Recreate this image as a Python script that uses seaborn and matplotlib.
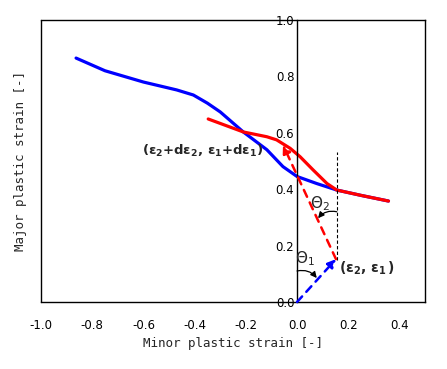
import numpy as np
import pandas as pd
import matplotlib
matplotlib.use("Agg")
import matplotlib.pyplot as plt
import seaborn as sns

# Data
blue_x = [-0.863, -0.75, -0.60, -0.47, -0.405, -0.35, -0.30, -0.21, -0.118, -0.055, 0.0, 0.077, 0.155, 0.25, 0.357]
blue_y = [0.865, 0.82, 0.78, 0.752, 0.734, 0.705, 0.674, 0.603, 0.54, 0.48, 0.445, 0.42, 0.397, 0.378, 0.358]
red_x = [-0.347, -0.21, -0.118, -0.08, -0.027, 0.012, 0.063, 0.117, 0.155, 0.25, 0.357]
red_y = [0.649, 0.603, 0.586, 0.575, 0.545, 0.515, 0.468, 0.42, 0.397, 0.378, 0.358]

p0 = (0.0, 0.0)
p1 = (0.152, 0.152)
p2 = (-0.055, 0.557)

xticks = [-1.0, -0.8, -0.6, -0.4, -0.2, 0.0, 0.2, 0.4]
yticks = [0.0, 0.2, 0.4, 0.6, 0.8, 1.0]

sns.set_style("white")
plt.rcParams["mathtext.fontset"] = "dejavusans"

fig = plt.figure(figsize=(4.47, 3.69), dpi=100)
ax = fig.add_axes([0.0917, 0.1816, 0.8593, 0.7642])

dfb = pd.DataFrame({"x": blue_x, "y": blue_y})
dfr = pd.DataFrame({"x": red_x, "y": red_y})
sns.lineplot(data=dfb, x="x", y="y", sort=False, color="#0000ff", lw=2.3, ax=ax)
sns.lineplot(data=dfr, x="x", y="y", sort=False, color="#ff0000", lw=2.3, ax=ax)

# dashed arrows
ax.annotate("", xy=p1, xytext=p0,
            arrowprops=dict(arrowstyle="-|>", color="#0000ff", lw=1.8, ls=(0, (3, 2.5)),
                            mutation_scale=12, shrinkA=0, shrinkB=0))
ax.annotate("", xy=p2, xytext=p1,
            arrowprops=dict(arrowstyle="-|>", color="#ff0000", lw=1.8, ls=(0, (3, 2.5)),
                            mutation_scale=12, shrinkA=0, shrinkB=0))
# thin vertical dashed reference line
ax.plot([0.155, 0.155], [0.15, 0.532], color="black", lw=0.8, ls=(0, (3, 2)))

# angle arrows
ax.annotate("", xy=(0.082, 0.297), xytext=(0.155, 0.32),
            arrowprops=dict(arrowstyle="-|>", color="black", lw=0.9, mutation_scale=9,
                            connectionstyle="arc3,rad=0.3", shrinkA=0, shrinkB=0))
ax.annotate("", xy=(0.077, 0.085), xytext=(0.0, 0.11),
            arrowprops=dict(arrowstyle="-|>", color="black", lw=0.9, mutation_scale=9,
                            connectionstyle="arc3,rad=-0.3", shrinkA=0, shrinkB=0))

ax.text(0.09, 0.35, r"$\Theta_2$", fontsize=11, ha="center", va="center")
ax.text(0.03, 0.155, r"$\Theta_1$", fontsize=11, ha="center", va="center")
ax.text(-0.37, 0.535, r"$\mathbf{(\varepsilon_2{+}d\varepsilon_2,\,\varepsilon_1{+}d\varepsilon_1)}$",
        fontsize=9.5, ha="center", va="center")
ax.text(0.275, 0.12, r"$\mathbf{(\varepsilon_2,\,\varepsilon_1\,)}$", fontsize=10, ha="center", va="center")

ax.set_xlim(-1.0, 0.5)
ax.set_ylim(0.0, 1.0)
ax.set_xticks(xticks)
ax.set_xticklabels([f"{v:.1f}" for v in xticks])
ax.set_yticks(yticks)
ax.set_yticklabels([f"{v:.1f}" for v in yticks])

for s in ["top", "right", "bottom"]:
    ax.spines[s].set_color("black")
    ax.spines[s].set_linewidth(1.0)
ax.spines["left"].set_position(("data", 0))
ax.spines["left"].set_color("black")
ax.spines["left"].set_linewidth(1.0)
ax.plot([0, 0], [0, 1], transform=ax.transAxes, color="black", lw=1.0, clip_on=False)

ax.tick_params(axis="x", direction="in", length=6, width=0.8, labelsize=8.5, pad=12, colors="black")
ax.tick_params(axis="y", direction="in", length=6, width=0.8, labelsize=8.5, pad=2, colors="black")

ax.set_xlabel("Minor plastic strain [-]", fontsize=9, family="DejaVu Sans Mono", labelpad=4)
ax.set_ylabel("")
fig.text(0.045, 0.5642, "Major plastic strain [-]", fontsize=9, family="DejaVu Sans Mono",
         rotation=90, ha="center", va="center")

fig.savefig("out.png", dpi=100)
